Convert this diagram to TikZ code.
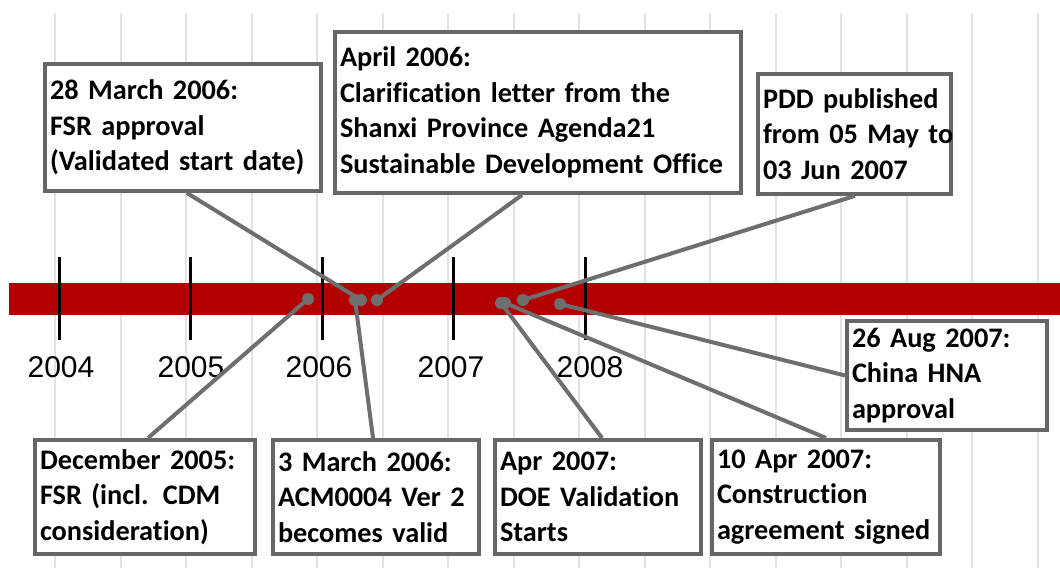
\documentclass[tikz,border=0pt]{standalone}
\usepackage{fontspec}
\setmainfont{Carlito}[Ligatures=NoCommon]
\newfontfamily\arialfont{Liberation Sans}
\definecolor{gridgray}{HTML}{E3E3E3}
\definecolor{barred}{RGB}{178,0,0}
\definecolor{boxgray}{HTML}{666666}
\definecolor{linegray}{HTML}{6E6E6E}
\begin{document}
\begin{tikzpicture}[x=1pt,y=-1pt,
  gridline/.style={draw=gridgray, line width=2pt},
  yeartick/.style={draw=black, line width=3pt},
  yearlbl/.style={font=\arialfont\fontsize{30}{30}\selectfont, anchor=base, inner sep=0pt},
  evbox/.style={draw=boxgray, line width=4pt, fill=white, rectangle, inner xsep=5pt, inner ysep=2pt, align=left, font=\bfseries\fontsize{28.3}{35.5}\selectfont},
  evdot/.style={circle, fill=linegray, minimum size=12pt, inner sep=0pt},
  connector/.style={draw=linegray, line width=4pt}]
\useasboundingbox (0,0) rectangle (1060,568);
\fill[white] (0,0) rectangle (1060,568);
% grid
\foreach \i in {0,...,15} \draw[gridline] ({55+65.5*\i},13) -- ({55+65.5*\i},568);
% bar
\fill[barred] (9,283) rectangle (1060,315);
% ticks
\foreach \x in {59,190.5,322,453.5,585} \draw[yeartick] (\x,257) -- (\x,340);
% year labels
\node[yearlbl] (y2004) at (61,377) {2004};
\node[yearlbl] (y2005) at (191,377) {2005};
\node[yearlbl] (y2006) at (319,377) {2006};
\node[yearlbl] (y2007) at (451,377) {2007};
\node[yearlbl] (y2008) at (590,377) {2008};
% dots
\node[evdot] (d1) at (308,299) {};
\node[evdot] (d2) at (355,300) {};
\node[evdot] (d3) at (361,300) {};
\node[evdot] (d4) at (377,300) {};
\node[evdot] (d5) at (501,303) {};
\node[evdot] (d6) at (505,303) {};
\node[evdot] (d7) at (523,300) {};
\node[evdot] (d8) at (560,304) {};
% boxes
\node[evbox, minimum width=276pt, text width=266pt, minimum height=127pt] (bA) at (183,127.5)
  {28 March 2006:\\FSR approval\\(Validated start date)};
\node[evbox, minimum width=406pt, text width=396pt, minimum height=161pt] (bB) at (538,112.5)
  {April 2006:\\Clarification letter from the\\Shanxi Province Agenda21\\Sustainable Development Office};
\node[evbox, minimum width=193pt, text width=183pt, minimum height=120pt] (bC) at (854.5,134)
  {PDD published\\from~05~May~to\\03 Jun 2007};
\node[evbox, minimum width=220pt, text width=210pt, minimum height=114pt] (bD) at (145,497)
  {December 2005:\\FSR (incl. CDM\\consideration)};
\node[evbox, minimum width=206pt, text width=196pt, minimum height=114pt] (bE) at (376,497)
  {3 March 2006:\\ACM0004 Ver 2\\becomes valid};
\node[evbox, minimum width=206pt, text width=196pt, minimum height=114pt] (bF) at (598,497)
  {Apr 2007:\\DOE Validation\\Starts};
\node[evbox, minimum width=228pt, text width=218pt, minimum height=114pt] (bG) at (826,497)
  {10 Apr 2007:\\Construction\\agreement signed};
\node[evbox, minimum width=200pt, text width=190pt, minimum height=109pt] (bH) at (947,375.5)
  {26 Aug 2007:\\China HNA\\approval};
% connectors
\draw[connector] (d3.center) -- ([xshift=4pt]bA.south);
\draw[connector] (d4.center) -- ([xshift=-16pt]bB.south);
\draw[connector] (d7.center) -- (bC.south);
\draw[connector] (d1.center) -- ([xshift=3pt]bD.north);
\draw[connector] (d2.center) -- ([xshift=-3pt]bE.north);
\draw[connector] (d5.center) -- ([xshift=4pt]bF.north);
\draw[connector] (d6.center) -- (bG.north);
\draw[connector] (d8.center) -- (bH.west);
\end{tikzpicture}
\end{document}
